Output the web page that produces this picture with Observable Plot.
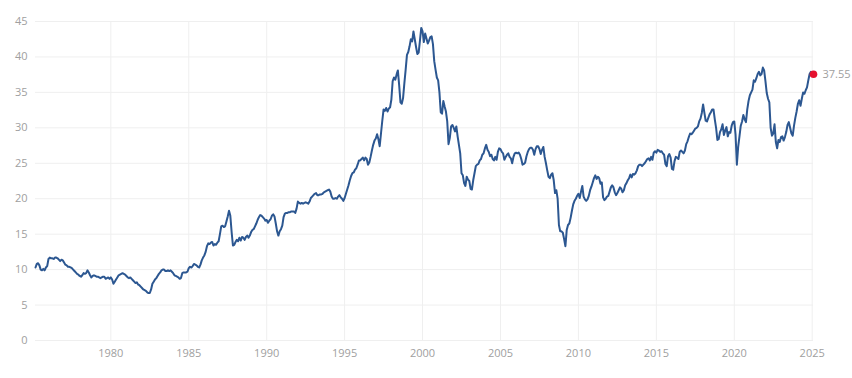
<!DOCTYPE html>
<html>
<head>
<meta charset="utf-8">
<script src="https://cdn.jsdelivr.net/npm/d3@7"></script>
<script src="https://cdn.jsdelivr.net/npm/@observablehq/plot@0.6"></script>
<style>
  html, body { margin: 0; padding: 0; background: #fff; }
  #chart svg { display: block; }
</style>
</head>
<body>
<div id="chart"></div>
<script>
// Monthly values, series starts March 1975 and ends February 2025
const startYear = 1975;
const startMonth = 3;
const v1975 = [10.3,10.8,10.9,10.6,10.0,9.9,10.1,9.9,10.3,10.5];
const v1976 = [11.5,11.7,11.6,11.6,11.5,11.7,11.7,11.6,11.4,11.2,11.4,11.3];
const v1977 = [11.0,10.7,10.6,10.4,10.4,10.3,10.2,10.0,9.8,9.6,9.4,9.3];
const v1978 = [9.1,9.0,9.2,9.5,9.4,9.5,9.9,9.6,9.2,8.9,9.1,9.2];
const v1979 = [9.1,9.0,9.0,8.9,8.8,8.9,9.0,9.0,8.7,8.8,8.9,8.7];
const v1980 = [8.9,8.6,8.0,8.3,8.6,8.9,9.2,9.3,9.4,9.5,9.4,9.3];
const v1981 = [9.1,8.9,8.8,8.9,8.7,8.5,8.3,8.1,8.2,7.9,7.8,7.6];
const v1982 = [7.4,7.2,7.1,7.0,6.8,6.7,6.7,7.2,8.0,8.3,8.6,8.8];
const v1983 = [9.1,9.4,9.6,9.9,10.0,10.0,9.8,9.8,9.9,9.8,9.9,9.7];
const v1984 = [9.5,9.2,9.1,9.0,8.9,8.7,8.8,9.5,9.6,9.6,9.6,9.7];
const v1985 = [10.2,10.4,10.3,10.5,10.8,10.7,10.6,10.4,10.3,10.7,11.3,11.7];
const v1986 = [12.0,12.5,13.3,13.7,13.6,13.8,13.9,13.4,13.6,13.5,13.8,14.0];
const v1987 = [15.0,16.1,16.2,16.0,16.1,16.8,17.5,18.3,17.6,15.3,13.4,13.5];
const v1988 = [13.9,14.2,14.0,14.5,14.1,14.6,14.5,14.2,14.6,14.8,14.5,14.8];
const v1989 = [15.3,15.6,15.7,16.1,16.5,17.0,17.4,17.7,17.6,17.4,17.2,16.9];
const v1990 = [17.0,16.6,16.9,17.1,17.6,17.8,17.5,16.5,15.4,14.8,15.4,15.7];
const v1991 = [16.2,17.4,17.9,18.0,18.0,18.1,18.1,18.2,18.2,18.2,18.0,18.6];
const v1992 = [19.6,19.4,19.3,19.4,19.3,19.4,19.5,19.4,19.3,19.6,20.1,20.3];
const v1993 = [20.5,20.7,20.8,20.5,20.5,20.6,20.6,20.7,20.9,21.0,21.1,21.2];
const v1994 = [21.3,21.0,20.3,20.0,20.0,20.1,20.0,20.3,20.5,20.2,20.0,19.7];
const v1995 = [20.1,20.7,21.3,21.9,22.6,23.2,23.6,23.7,24.1,24.3,24.8,25.4];
const v1996 = [25.4,25.6,25.8,25.4,25.8,25.6,24.8,25.1,25.9,26.8,27.6,28.2];
const v1997 = [28.5,29.1,28.4,27.4,29.2,31.0,32.6,32.4,32.8,32.3,32.7,32.9];
const v1998 = [34.0,36.6,37.1,36.8,37.5,38.1,36.0,33.6,33.4,34.2,36.3,38.2];
const v1999 = [40.3,40.7,41.5,42.5,42.2,43.6,42.5,41.4,40.4,40.6,42.3,44.1];
const v2000 = [43.6,42.1,43.3,42.6,41.9,42.3,42.8,42.9,41.8,39.4,38.2,37.1];
const v2001 = [36.7,35.0,32.2,32.0,33.8,33.0,32.3,30.9,27.7,28.6,30.2,30.4];
const v2002 = [30.0,29.5,30.2,28.8,27.6,26.4,23.6,23.3,22.2,21.8,23.1,22.7];
const v2003 = [22.5,21.4,21.3,22.6,23.6,24.6,24.8,24.9,25.4,25.6,26.2,26.4];
const v2004 = [27.1,27.6,26.9,26.6,26.0,26.2,25.6,25.4,25.9,25.5,26.6,27.1];
const v2005 = [27.0,26.6,26.4,25.5,25.9,26.2,26.4,25.9,25.7,25.0,25.9,26.4];
const v2006 = [26.5,26.4,26.5,26.2,25.6,24.8,24.9,25.1,26.0,26.6,27.0,27.2];
const v2007 = [27.2,26.9,26.2,27.0,27.4,27.4,27.0,26.3,26.9,27.3,25.9,25.0];
const v2008 = [24.0,23.1,22.9,23.4,23.6,22.6,20.8,21.2,20.0,16.3,15.4,15.4];
const v2009 = [15.2,14.3,13.3,15.6,16.3,16.5,17.3,18.3,19.2,19.7,20.0,20.4];
const v2010 = [20.7,20.1,21.0,21.8,20.3,19.9,19.7,19.9,20.4,21.2,21.7,22.3];
const v2011 = [22.9,23.3,22.8,23.1,22.9,22.1,22.3,20.2,19.8,20.0,20.3,20.4];
const v2012 = [21.0,21.6,21.9,21.6,20.9,20.5,20.8,21.2,21.6,21.4,20.9,21.2];
const v2013 = [21.9,22.2,22.6,22.9,23.4,23.0,23.5,23.4,23.6,24.0,24.6,24.8];
const v2014 = [24.8,24.6,24.8,25.0,25.3,25.6,25.7,25.4,25.9,25.5,26.5,26.7];
const v2015 = [26.5,26.9,26.8,26.6,26.7,26.4,26.2,24.9,24.6,26.0,26.3,25.8];
const v2016 = [24.2,24.1,25.3,25.9,25.8,25.6,26.6,26.8,26.6,26.4,26.8,27.7];
const v2017 = [28.1,28.7,29.2,29.1,29.3,29.6,29.9,30.0,30.2,30.9,31.3,32.1];
const v2018 = [33.3,32.1,31.0,30.9,31.4,31.9,32.2,32.6,32.6,31.2,30.0,28.3];
const v2019 = [28.4,29.4,29.8,30.5,29.0,29.6,30.1,28.8,29.4,29.3,30.3,30.8];
const v2020 = [30.9,29.0,24.8,27.3,28.8,30.3,30.9,31.8,31.2,30.8,32.6,33.8];
const v2021 = [34.6,35.0,35.4,36.7,36.5,37.0,37.6,37.9,37.4,37.6,38.5,38.1];
const v2022 = [36.6,34.9,34.1,33.6,30.0,28.9,29.2,30.5,28.0,27.1,28.3,28.0];
const v2023 = [28.7,28.8,28.2,28.7,29.4,30.4,30.8,30.0,29.2,28.9,30.3,31.4];
const v2024 = [32.3,33.4,33.9,33.1,34.1,35.0,34.8,35.3,35.7,36.7,37.6,37.9];
const v2025 = [37.8,37.55];

const yTicks = [0,5,10,15,20,25,30,35,40,45];
const xTicks = [1980,1985,1990,1995,2000,2005,2010,2015,2020,2025];

const allValues = [].concat(v1975,v1976,v1977,v1978,v1979,v1980,v1981,v1982,v1983,v1984,
  v1985,v1986,v1987,v1988,v1989,v1990,v1991,v1992,v1993,v1994,v1995,v1996,v1997,v1998,v1999,
  v2000,v2001,v2002,v2003,v2004,v2005,v2006,v2007,v2008,v2009,v2010,v2011,v2012,v2013,v2014,
  v2015,v2016,v2017,v2018,v2019,v2020,v2021,v2022,v2023,v2024,v2025);

const data = allValues.map((v, i) => ({t: startYear + (startMonth - 1 + i) / 12, value: v}));
const last = data[data.length - 1];

const chart = Plot.plot({
  width: 852,
  height: 378,
  marginTop: 21,
  marginBottom: 38,
  marginLeft: 35,
  marginRight: 39,
  style: {fontFamily: "'Open Sans', sans-serif", fontSize: "11px", background: "#fff", color: "#a0a0a0"},
  x: {domain: [data[0].t, last.t], label: null},
  y: {domain: [0, 45], label: null},
  marks: [
    Plot.gridY(yTicks, {stroke: "#efefef", strokeOpacity: 1, strokeWidth: 1}),
    Plot.gridX(xTicks, {stroke: "#efefef", strokeOpacity: 1, strokeWidth: 1}),
    Plot.axisY(yTicks, {tickSize: 0, tickPadding: 8, label: null, fill: "#a0a0a0"}),
    Plot.axisX(xTicks, {tickSize: 0, tickPadding: 9, tickFormat: d => String(d), label: null, fill: "#a0a0a0"}),
    Plot.lineY(data, {x: "t", y: "value", stroke: "#2c5791", strokeWidth: 2, curve: "linear"}),
    Plot.dot([last], {x: "t", y: "value", r: 3.8, fill: "#e5112f", stroke: "none"}),
    Plot.text([last], {x: "t", y: "value", text: d => d.value.toFixed(2), dx: 9, textAnchor: "start", fill: "#a0a0a0", fontSize: 11})
  ]
});
document.getElementById("chart").appendChild(chart);
</script>
</body>
</html>
